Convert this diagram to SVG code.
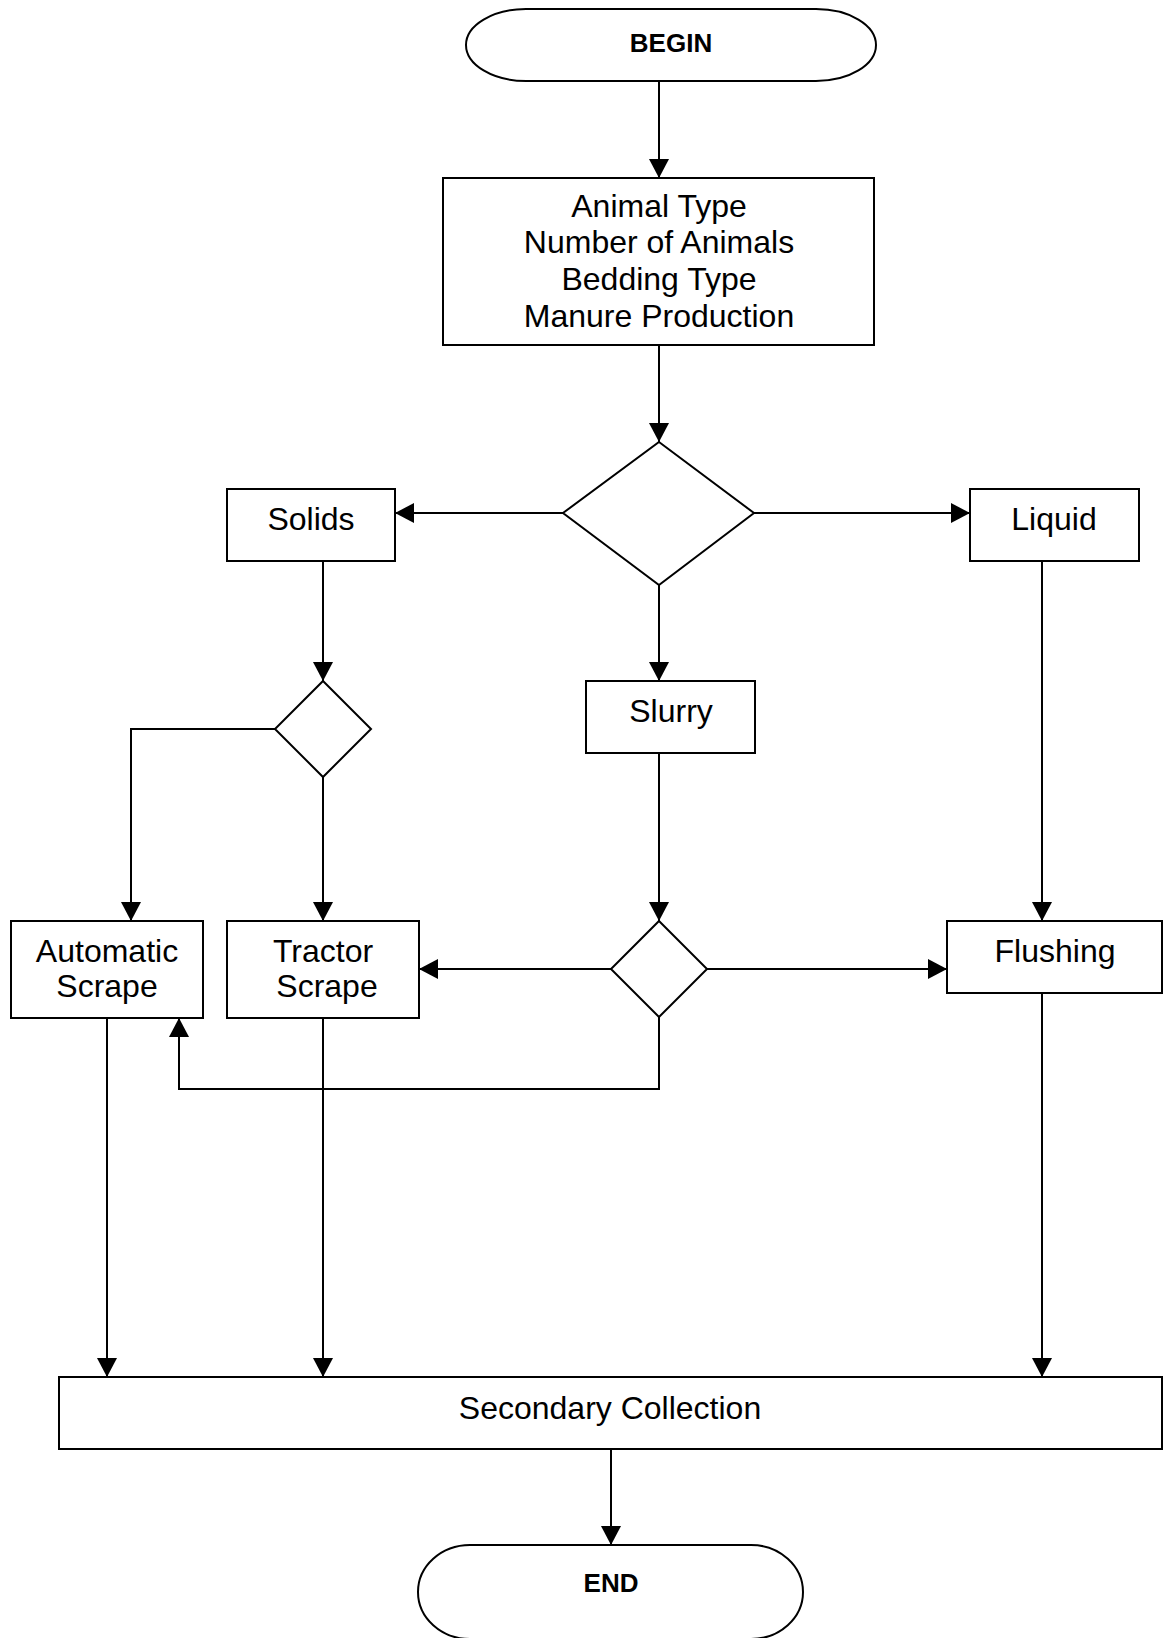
<svg xmlns="http://www.w3.org/2000/svg" width="1166" height="1638" viewBox="0 0 1166 1638">
<defs>
<style>
.n{fill:#fff;stroke:#000;stroke-width:2}
.t{font-family:"Liberation Sans",Arial,sans-serif;font-size:32px;fill:#000;text-anchor:middle}
.b{font-family:"Liberation Sans",Arial,sans-serif;font-size:26px;font-weight:bold;fill:#000;text-anchor:middle}
.c{fill:none;stroke:#000;stroke-width:2}
</style>
<marker id="ah" markerUnits="userSpaceOnUse" markerWidth="20" markerHeight="20" viewBox="0 0 20 20" refX="19" refY="10" orient="auto">
<path d="M0,0 L19,10 L0,20 Z" fill="#000"/>
</marker>
</defs>
<rect width="1166" height="1638" fill="#fff"/>
<g id="connectors">
<path class="c" d="M659,81 V178" marker-end="url(#ah)"/>
<path class="c" d="M659,345 V442" marker-end="url(#ah)"/>
<path class="c" d="M563,513 H395" marker-end="url(#ah)"/>
<path class="c" d="M754,513 H970" marker-end="url(#ah)"/>
<path class="c" d="M659,585 V681" marker-end="url(#ah)"/>
<path class="c" d="M323,561 V681" marker-end="url(#ah)"/>
<path class="c" d="M275,729 H131 V921" marker-end="url(#ah)"/>
<path class="c" d="M323,777 V921" marker-end="url(#ah)"/>
<path class="c" d="M659,753 V921" marker-end="url(#ah)"/>
<path class="c" d="M1042,561 V921" marker-end="url(#ah)"/>
<path class="c" d="M611,969 H419" marker-end="url(#ah)"/>
<path class="c" d="M707,969 H947" marker-end="url(#ah)"/>
<path class="c" d="M659,1017 V1089 H179 V1018" marker-end="url(#ah)"/>
<path class="c" d="M107,1018 V1377" marker-end="url(#ah)"/>
<path class="c" d="M323,1018 V1377" marker-end="url(#ah)"/>
<path class="c" d="M1042,993 V1377" marker-end="url(#ah)"/>
<path class="c" d="M611,1449 V1545" marker-end="url(#ah)"/>
</g>
<g id="begin">
<path class="n" d="M526,9 H816 A60,36 0 0 1 816,81 H526 A60,36 0 0 1 526,9 Z"/>
<text class="b" x="671" y="52">BEGIN</text>
</g>
<g id="info">
<rect class="n" x="443" y="178" width="431" height="167"/>
<text class="t" x="659" y="217">Animal Type</text>
<text class="t" x="659" y="253">Number of Animals</text>
<text class="t" x="659" y="290">Bedding Type</text>
<text class="t" x="659" y="327">Manure Production</text>
</g>
<g id="decision-main">
<polygon class="n" points="659,442 754,513 659,585 563,513"/>
</g>
<g id="solids">
<rect class="n" x="227" y="489" width="168" height="72"/>
<text class="t" x="311" y="530">Solids</text>
</g>
<g id="liquid">
<rect class="n" x="970" y="489" width="169" height="72"/>
<text class="t" x="1054" y="530">Liquid</text>
</g>
<g id="slurry">
<rect class="n" x="586" y="681" width="169" height="72"/>
<text class="t" x="671" y="722">Slurry</text>
</g>
<g id="decision-solids">
<polygon class="n" points="323,681 371,729 323,777 275,729"/>
</g>
<g id="decision-slurry">
<polygon class="n" points="659,921 707,969 659,1017 611,969"/>
</g>
<g id="automatic-scrape">
<rect class="n" x="11" y="921" width="192" height="97"/>
<text class="t" x="107" y="962">Automatic</text>
<text class="t" x="107" y="997">Scrape</text>
</g>
<g id="tractor-scrape">
<rect class="n" x="227" y="921" width="192" height="97"/>
<text class="t" x="323" y="962">Tractor</text>
<text class="t" x="327" y="997">Scrape</text>
</g>
<g id="flushing">
<rect class="n" x="947" y="921" width="215" height="72"/>
<text class="t" x="1055" y="962">Flushing</text>
</g>
<g id="secondary">
<rect class="n" x="59" y="1377" width="1103" height="72"/>
<text class="t" x="610" y="1419">Secondary Collection</text>
</g>
<g id="end">
<path class="n" d="M470,1545 H751 A52,47 0 0 1 751,1639 H470 A52,47 0 0 1 470,1545 Z"/>
<text class="b" x="611" y="1592">END</text>
</g>
</svg>
